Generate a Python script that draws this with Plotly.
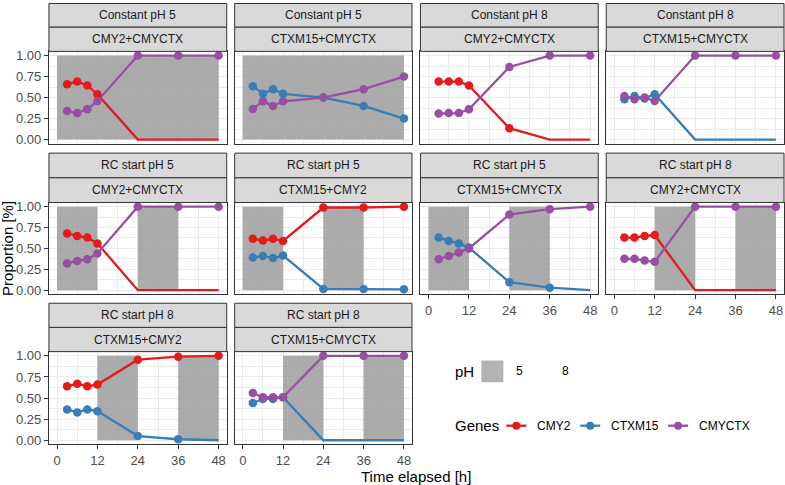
import plotly.graph_objects as go

W, H = 785, 485

# ---------------- data ----------------
hours = [3, 6, 9, 12, 24, 36, 48]
x_ticks = [0, 12, 24, 36, 48]
y_ticks = [0, 0.25, 0.5, 0.75, 1.0]
y_ticklabels = ["0.00", "0.25", "0.50", "0.75", "1.00"]

conditions = ["Constant pH 5", "Constant pH 5", "Constant pH 8", "Constant pH 8",
              "RC start pH 5", "RC start pH 5", "RC start pH 5",
              "RC start pH 8", "RC start pH 8", "RC start pH 8"]
pairs = ["CMY2+CMYCTX", "CTXM15+CMYCTX", "CMY2+CMYCTX", "CTXM15+CMYCTX",
         "CMY2+CMYCTX", "CTXM15+CMY2", "CTXM15+CMYCTX",
         "CMY2+CMYCTX", "CTXM15+CMY2", "CTXM15+CMYCTX"]

# periods (h) at pH 5 for each condition
ph5_periods = {
    "Constant pH 5": [(0, 48)],
    "Constant pH 8": [],
    "RC start pH 5": [(0, 12), (24, 36)],
    "RC start pH 8": [(12, 24), (36, 48)],
}

p1 = {"CMY2": [0.66, 0.69, 0.645, 0.54, 0, 0, 0],
      "CMYCTX": [0.34, 0.315, 0.36, 0.46, 1, 1, 1]}
p2 = {"CTXM15": [0.635, 0.545, 0.60, 0.545, 0.50, 0.40, 0.25],
      "CMYCTX": [0.365, 0.455, 0.40, 0.455, 0.50, 0.60, 0.75]}
p3 = {"CMY2": [0.69, 0.69, 0.69, 0.645, 0.135, 0, 0],
      "CMYCTX": [0.31, 0.315, 0.315, 0.36, 0.865, 1, 1]}
p4 = {"CTXM15": [0.48, 0.52, 0.49, 0.54, 0, 0, 0],
      "CMYCTX": [0.52, 0.48, 0.50, 0.46, 1, 1, 1]}
p5 = {"CMY2": [0.68, 0.65, 0.63, 0.56, 0, 0, 0],
      "CMYCTX": [0.32, 0.35, 0.37, 0.44, 1, 1, 1]}
p6 = {"CMY2": [0.615, 0.595, 0.615, 0.59, 0.99, 0.99, 1.0],
      "CTXM15": [0.39, 0.41, 0.385, 0.415, 0.015, 0.015, 0.01]}
p7 = {"CTXM15": [0.63, 0.59, 0.56, 0.51, 0.095, 0.03, 0],
      "CMYCTX": [0.37, 0.41, 0.45, 0.50, 0.905, 0.97, 1.0]}
p8 = {"CMY2": [0.63, 0.63, 0.65, 0.66, 0, 0, 0],
      "CMYCTX": [0.375, 0.375, 0.355, 0.34, 1, 1, 1]}
p9 = {"CMY2": [0.64, 0.67, 0.64, 0.66, 0.955, 0.99, 1.0],
      "CTXM15": [0.365, 0.33, 0.365, 0.345, 0.05, 0.012, 0]}
p10 = {"CTXM15": [0.44, 0.49, 0.49, 0.51, 0, 0, 0],
       "CMYCTX": [0.56, 0.51, 0.51, 0.51, 1, 1, 1]}
panels = [p1, p2, p3, p4, p5, p6, p7, p8, p9, p10]

genes = ["CMY2", "CTXM15", "CMYCTX"]
gene_colors = {"CMY2": "#E41A1C", "CTXM15": "#377EB8", "CMYCTX": "#984EA3"}
ph_fill = "rgba(152,152,152,0.82)"
ph_key_fill = "#B3B3B3"

# ---------------- layout geometry (pixels) ----------------
col_x = [(49, 227), (235, 412.5), (421, 599), (607, 785)]
row_y = [  # (strip1 top, strip split, panel top, panel bottom)
    (0.5, 24.5, 49, 142.5),
    (152, 177, 202, 295),
    (304, 328.5, 353, 447),
]
positions = [(0, 0), (0, 1), (0, 2), (0, 3),
             (1, 0), (1, 1), (1, 2), (1, 3),
             (2, 0), (2, 1)]
bottom_axis = {6, 7, 8, 9}  # panels that show x tick labels (0-based)


def px(x):
    return x / W


def py(y):
    return 1 - y / H


FONT = "Liberation Sans, Arial, sans-serif"
fig = go.Figure()
shapes, annotations = [], []
layout_axes = {}

for i, (r, c) in enumerate(positions):
    n = i + 1
    xa = "x" if n == 1 else f"x{n}"
    ya = "y" if n == 1 else f"y{n}"
    x0, x1 = col_x[c]
    s_top, s_mid, p_top, p_bot = row_y[r]

    show_x = i in bottom_axis
    show_y = c == 0
    layout_axes["xaxis" if n == 1 else f"xaxis{n}"] = dict(
        domain=[px(x0), px(x1)], anchor=ya, range=[-2.4, 50.4],
        tickvals=x_ticks, ticktext=[str(t) for t in x_ticks],
        showticklabels=show_x, ticks="outside" if show_x else "",
        ticklen=4, tickcolor="#333333", tickwidth=1,
        tickfont=dict(family=FONT, size=13, color="#4D4D4D"),
        showgrid=True, gridcolor="#EBEBEB", gridwidth=1.1,
        minor=dict(tickvals=[6, 18, 30, 42], showgrid=True,
                   gridcolor="#EBEBEB", gridwidth=0.6, ticks=""),
        showline=True, mirror=True, linecolor="#333333", linewidth=1,
        zeroline=False, fixedrange=True,
    )
    layout_axes["yaxis" if n == 1 else f"yaxis{n}"] = dict(
        domain=[py(p_bot), py(p_top)], anchor=xa, range=[-0.05, 1.05],
        tickvals=y_ticks, ticktext=y_ticklabels,
        showticklabels=show_y, ticks="outside" if show_y else "",
        ticklen=4, tickcolor="#333333", tickwidth=1,
        tickfont=dict(family=FONT, size=13, color="#4D4D4D"),
        showgrid=True, gridcolor="#EBEBEB", gridwidth=1.1,
        minor=dict(tickvals=[0.125, 0.375, 0.625, 0.875], showgrid=True,
                   gridcolor="#EBEBEB", gridwidth=0.6, ticks=""),
        showline=True, mirror=True, linecolor="#333333", linewidth=1,
        zeroline=False, fixedrange=True,
    )

    # pH shading (drawn over the grid, under the data)
    for (a, b) in ph5_periods[conditions[i]]:
        shapes.append(dict(type="rect", xref=xa, yref=ya, x0=a, x1=b, y0=0, y1=1,
                           fillcolor=ph_fill, line=dict(width=0), layer="between"))

    # strips
    for (t, btm, label) in [(s_top, s_mid, conditions[i]), (s_mid, p_top, pairs[i])]:
        shapes.append(dict(type="rect", xref="paper", yref="paper",
                           x0=px(x0), x1=px(x1), y0=py(btm), y1=py(t),
                           fillcolor="#D9D9D9", line=dict(color="#333333", width=1)))
        annotations.append(dict(xref="paper", yref="paper", x=px((x0 + x1) / 2),
                                y=py((t + btm) / 2), text=label, showarrow=False,
                                xanchor="center", yanchor="middle",
                                font=dict(family=FONT, size=12, color="#1A1A1A")))

    data = panels[i]
    # lines first
    for g in genes:
        if g in data:
            fig.add_trace(go.Scatter(x=hours, y=data[g], mode="lines", xaxis=xa, yaxis=ya,
                                     line=dict(color=gene_colors[g], width=2.3),
                                     showlegend=False, hoverinfo="skip"))
    # points (zero values have no point)
    for g in genes:
        if g in data:
            xs = [h for h, v in zip(hours, data[g]) if v != 0]
            ys = [v for v in data[g] if v != 0]
            fig.add_trace(go.Scatter(x=xs, y=ys, mode="markers", xaxis=xa, yaxis=ya,
                                     marker=dict(color=gene_colors[g], size=8.5),
                                     showlegend=False, hoverinfo="skip"))

# axis titles
annotations.append(dict(xref="paper", yref="paper", x=px(417), y=py(479),
                        text="Time elapsed [h]", showarrow=False,
                        xanchor="center", yanchor="middle",
                        font=dict(family=FONT, size=15, color="#000000")))
annotations.append(dict(xref="paper", yref="paper", x=px(8), y=py(248),
                        text="Proportion [%]", showarrow=False, textangle=-90,
                        xanchor="center", yanchor="middle",
                        font=dict(family=FONT, size=15, color="#000000")))

# ---- pH legend ----
annotations.append(dict(xref="paper", yref="paper", x=px(454), y=py(373), text="pH",
                        showarrow=False, xanchor="left", yanchor="middle",
                        font=dict(family=FONT, size=15, color="#000000")))
shapes.append(dict(type="rect", xref="paper", yref="paper", x0=px(482), x1=px(504),
                   y0=py(384), y1=py(362), fillcolor=ph_key_fill, line=dict(width=0)))
for lx, lab in [(515, "5"), (561, "8")]:
    annotations.append(dict(xref="paper", yref="paper", x=px(lx), y=py(373), text=lab,
                            showarrow=False, xanchor="left", yanchor="middle",
                            font=dict(family=FONT, size=12, color="#000000")))

# ---- Genes legend ----
annotations.append(dict(xref="paper", yref="paper", x=px(454), y=py(428), text="Genes",
                        showarrow=False, xanchor="left", yanchor="middle",
                        font=dict(family=FONT, size=15, color="#000000")))
key_x = {"CMY2": 507, "CTXM15": 581, "CMYCTX": 669}
for g in genes:
    kx = key_x[g]
    shapes.append(dict(type="line", xref="paper", yref="paper", x0=px(kx), x1=px(kx + 20),
                       y0=py(428), y1=py(428), line=dict(color=gene_colors[g], width=2.3)))
    shapes.append(dict(type="circle", xref="paper", yref="paper",
                       x0=px(kx + 10 - 4), x1=px(kx + 10 + 4),
                       y0=py(428 + 4), y1=py(428 - 4),
                       fillcolor=gene_colors[g], line=dict(width=0)))
    annotations.append(dict(xref="paper", yref="paper", x=px(kx + 29), y=py(428), text=g,
                            showarrow=False, xanchor="left", yanchor="middle",
                            font=dict(family=FONT, size=12, color="#000000")))

fig.update_layout(
    width=W, height=H, autosize=False,
    margin=dict(l=0, r=0, t=0, b=0),
    paper_bgcolor="white", plot_bgcolor="white",
    showlegend=False, shapes=shapes, annotations=annotations,
    **layout_axes,
)

fig.write_html("out.html")
